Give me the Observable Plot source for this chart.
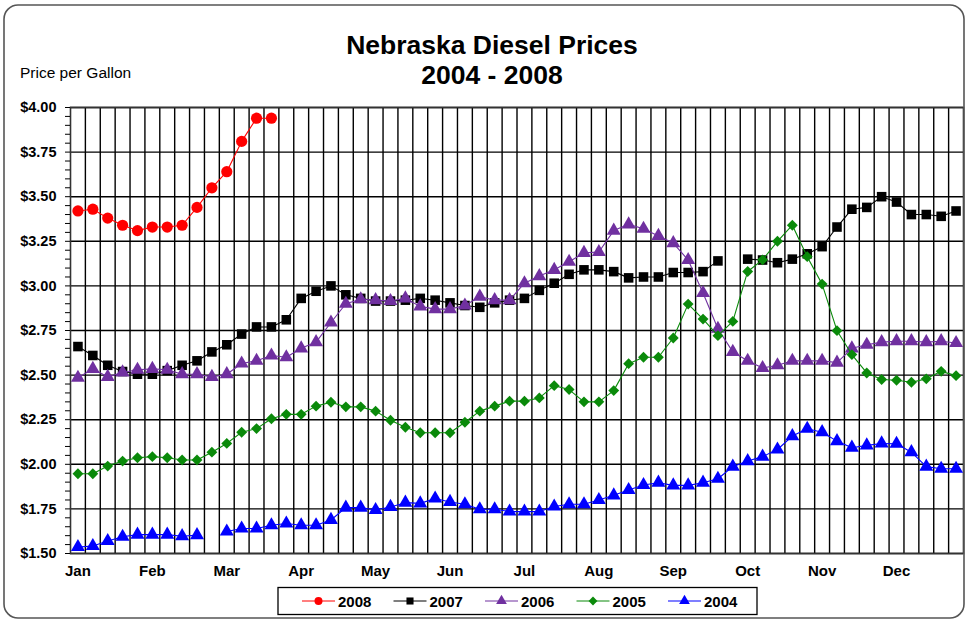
<!DOCTYPE html>
<html>
<head>
<meta charset="utf-8">
<script src="https://cdn.jsdelivr.net/npm/d3@7"></script>
<script src="https://cdn.jsdelivr.net/npm/@observablehq/plot@0.6"></script>
<style>
  html, body { margin: 0; padding: 0; background: #fff; }
  #wrap { position: relative; width: 969px; height: 623px; overflow: hidden; font-family: "Liberation Sans", Arial, sans-serif; }
  #wrap > svg { position: absolute; left: 0; top: 0; }
</style>
</head>
<body>
<div id="wrap"></div>
<script>
// ---- data (weekly slots, 5 per month, 60 slots) ----
const months = ["Jan","Feb","Mar","Apr","May","Jun","Jul","Aug","Sep","Oct","Nov","Dec"];
const slotsPerMonth = 5;
const yTicks = [1.50, 1.75, 2.00, 2.25, 2.50, 2.75, 3.00, 3.25, 3.50, 3.75, 4.00];

const y2008 = [3.42,3.43,3.38,3.34,3.31,3.33,3.33,3.34,3.44,3.55,3.64,3.81,3.94,3.94];

const y2007 = [2.66,2.61,2.555,2.52,2.505,2.505,2.525,2.555,2.58,2.63,
               2.67,2.73,2.77,2.77,2.81,2.93,2.97,3.00,2.95,2.93,
               2.915,2.915,2.92,2.93,2.92,2.905,2.89,2.88,2.905,2.92,
               2.93,2.975,3.015,3.065,3.09,3.09,3.08,3.045,3.05,3.05,
               3.075,3.075,3.08,3.14,null,3.15,3.145,3.13,3.15,3.18,
               3.22,3.33,3.43,3.44,3.50,3.47,3.40,3.40,3.39,3.42];

const y2006 = [2.485,2.535,2.49,2.515,2.53,2.535,2.53,2.505,2.505,2.49,
               2.505,2.565,2.58,2.61,2.60,2.65,2.685,2.795,2.90,2.925,
               2.92,2.915,2.93,2.885,2.87,2.87,2.89,2.94,2.92,2.92,
               3.015,3.055,3.09,3.135,3.185,3.19,3.31,3.345,3.32,3.28,
               3.24,3.145,2.96,2.76,2.63,2.58,2.54,2.555,2.58,2.58,
               2.58,2.57,2.65,2.67,2.685,2.69,2.69,2.685,2.69,2.68];

const y2005 = [1.947,1.947,1.99,2.018,2.037,2.043,2.037,2.024,2.024,2.068,
               2.117,2.18,2.20,2.255,2.28,2.28,2.326,2.348,2.322,2.322,
               2.298,2.247,2.208,2.177,2.177,2.177,2.236,2.298,2.326,2.354,
               2.354,2.372,2.441,2.419,2.35,2.35,2.413,2.564,2.60,2.60,
               2.708,2.898,2.814,2.721,2.801,3.081,3.146,3.25,3.34,3.164,
               3.01,2.749,2.615,2.512,2.475,2.471,2.46,2.479,2.521,2.497];

const y2004 = [1.536,1.542,1.57,1.594,1.606,1.606,1.606,1.597,1.603,null,
               1.623,1.64,1.64,1.658,1.668,1.658,1.658,1.688,1.757,1.757,
               1.744,1.761,1.785,1.781,1.808,1.789,1.776,1.748,1.748,1.735,
               1.735,1.735,1.763,1.776,1.776,1.80,1.826,1.856,1.884,1.897,
               1.882,1.882,1.897,1.919,1.987,2.018,2.043,2.083,2.158,2.199,
               2.18,2.13,2.093,2.106,2.117,2.115,2.068,1.987,1.975,1.975];

const seriesNames = ["2008","2007","2006","2005","2004"];
const seriesValues = [y2008, y2007, y2006, y2005, y2004];
const seriesColors = ["#ff0000","#000000","#7030a0","#0a8a0a","#0000ff"];
const seriesSymbols = ["circle","square","triangle","diamond2","triangle"];
const seriesR = [5.6, 5.4, 5.2, 4.9, 5.2];

// ---- build ----
const nSlots = months.length * slotsPerMonth;
const series = seriesNames.map((name, k) => ({
  name, color: seriesColors[k], symbol: seriesSymbols[k], r: seriesR[k],
  rows: seriesValues[k].map((v, i) => ({i, v, name}))
}));

const vgrid = d3.range(1, nSlots).map(i => i - 0.5);
const minorTicks = d3.range(0, 51).map(k => 1.5 + k * 0.05);
const monthTicks = months.map((m, j) => j * slotsPerMonth);

const marks = [
  Plot.ruleX(vgrid, {stroke: "#000", strokeWidth: 1.4}),
  Plot.ruleY(yTicks, {stroke: "#000", strokeWidth: 1.4}),
  Plot.frame({stroke: "#333", strokeWidth: 1.6}),
  Plot.axisY({ticks: minorTicks, tickSize: 5, tickFormat: () => "", stroke: "#000", label: null}),
  Plot.axisY({ticks: yTicks, tickSize: 0, tickPadding: 14, tickFormat: d => "$" + d.toFixed(2),
              fontSize: 14.5, fontWeight: "bold", fill: "#000", label: null}),
  Plot.axisX({ticks: monthTicks, tickSize: 0, tickPadding: 12, tickFormat: i => months[i / slotsPerMonth],
              fontSize: 15, fontWeight: "bold", fill: "#000", label: null})
];
for (const s of series) {
  marks.push(Plot.line(s.rows, {x: "i", y: "v", stroke: s.color, strokeWidth: 1.1}));
  marks.push(Plot.dot(s.rows.filter(d => d.v != null), {x: "i", y: "v", fill: s.color, stroke: "none", symbol: () => s.symbol, r: s.r}));
}

const chart = Plot.plot({
  width: 969, height: 623,
  marginLeft: 70, marginRight: 6, marginTop: 107, marginBottom: 70,
  x: {domain: [-0.5, nSlots - 0.5], axis: null},
  y: {domain: [1.5, 4.0], axis: null},
  symbol: {type: "identity"},
  style: {background: "transparent", fontFamily: "'Liberation Sans', Arial, sans-serif", color: "#000"},
  marks
});
const wrap = document.getElementById("wrap");
wrap.appendChild(chart);

// ---- overlay: border, titles, legend ----
const ov = d3.select(wrap).append("svg")
  .attr("width", 969).attr("height", 623)
  .style("font-family", "'Liberation Sans', Arial, sans-serif");

ov.append("rect").attr("x", 4).attr("y", 5).attr("width", 960).attr("height", 613)
  .attr("rx", 14).attr("fill", "none").attr("stroke", "#555").attr("stroke-width", 1.6);

ov.append("text").attr("x", 492).attr("y", 54).attr("text-anchor", "middle")
  .attr("font-size", 26.5).attr("font-weight", "bold").text("Nebraska Diesel Prices");
ov.append("text").attr("x", 492).attr("y", 84).attr("text-anchor", "middle")
  .attr("font-size", 26.5).attr("font-weight", "bold").text("2004 - 2008");
ov.append("text").attr("x", 20).attr("y", 78)
  .attr("font-size", 15.5).text("Price per Gallon");

const lg = ov.append("g");
lg.append("rect").attr("x", 278).attr("y", 587.5).attr("width", 479).attr("height", 27)
  .attr("fill", "#fff").attr("stroke", "#000").attr("stroke-width", 1.3);
const symMap = {circle: d3.symbolCircle, square: d3.symbolSquare, triangle: d3.symbolTriangle, diamond2: d3.symbolDiamond2};
series.forEach((s, k) => {
  const x0 = 302 + k * 91.5, yc = 601;
  lg.append("line").attr("x1", x0).attr("x2", x0 + 33).attr("y1", yc).attr("y2", yc)
    .attr("stroke", s.color).attr("stroke-width", 1.2);
  lg.append("path").attr("d", d3.symbol(symMap[s.symbol], 50)())
    .attr("transform", `translate(${x0 + 16.5},${yc})`).attr("fill", s.color);
  lg.append("text").attr("x", x0 + 36).attr("y", yc + 5.5).attr("font-size", 15)
    .attr("font-weight", "bold").text(s.name);
});
</script>
</body>
</html>
